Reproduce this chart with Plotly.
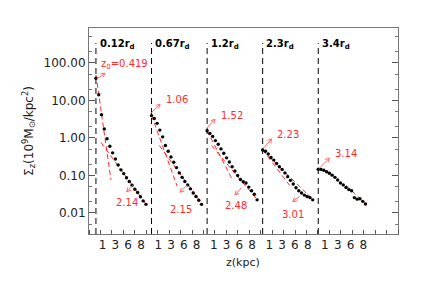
import numpy as np
import plotly.graph_objects as go

# ---------------- data ----------------
panel_titles = ["0.12r<sub>d</sub>", "0.67r<sub>d</sub>", "1.2r<sub>d</sub>", "2.3r<sub>d</sub>", "3.4r<sub>d</sub>"]
z_step = 0.5  # kpc sampling of the profiles

sigma_p1 = [38.9, 14.1, 4.17, 1.74, 0.95, 0.60, 0.40, 0.275, 0.19, 0.141, 0.112, 0.087, 0.069, 0.055, 0.043, 0.035, 0.027, 0.021, 0.017]
sigma_p2 = [3.94, 3.31, 2.45, 1.62, 1.07, 0.63, 0.44, 0.31, 0.224, 0.162, 0.117, 0.089, 0.069, 0.056, 0.044, 0.034, 0.0275, 0.0219, 0.017]
sigma_p3 = [1.55, 1.32, 1.10, 0.85, 0.68, 0.51, 0.39, 0.295, 0.229, 0.17, 0.132, 0.100, 0.078, 0.068, 0.063, 0.049, 0.039, 0.0316, 0.0224]
sigma_p4 = [0.479, 0.442, 0.372, 0.302, 0.257, 0.209, 0.170, 0.145, 0.117, 0.093, 0.074, 0.059, 0.047, 0.039, 0.034, 0.030, 0.0275, 0.0257, 0.0224]
sigma_p5 = [0.146, 0.145, 0.138, 0.126, 0.115, 0.102, 0.089, 0.076, 0.063, 0.056, 0.048, 0.042, 0.039, 0.0257, 0.0234, 0.024, 0.0204, 0.0174]
profiles = [sigma_p1, sigma_p2, sigma_p3, sigma_p4, sigma_p5]

# scale heights (kpc) of the fits
z0_inner = [0.419, 1.06, 1.52, 2.23, 3.14]
z0_outer = [2.14, 2.15, 2.48, 3.01, None]
inner_label = ["z<sub>0</sub>=0.419", "1.06", "1.52", "2.23", "3.14"]
outer_label = ["2.14", "2.15", "2.48", "3.01", None]
# fit extents (kpc) and normalisations (value at start of range)
inner_range = [(0.0, 2.7), (0.0, 4.6), (0.0, 4.5), (0.0, 5.0), (5.0, 8.6)]
inner_norm = [48.0, 4.0, 1.55, 0.48, 0.054]
outer_range = [(0.9, 9.1), (1.4, 9.1), (0.8, 9.1), (1.0, 9.1), None]
outer_end = [0.0165, 0.0175, 0.022, 0.0225, None]   # value at end of outer range

tick_pos = [1.2, 3.5, 5.8, 8.1]     # where the labels sit inside each panel
tick_text = ["1", "3", "6", "8"]

# ---------------- layout helpers ----------------
panel_w = 10.0
first_off = 1.25
offsets = [first_off + k * panel_w for k in range(5)]
XMAX = 55.6
RED = "#ff2a2a"
ARROW = "#ff6a6a"
FONT = "DejaVu Sans"

fig = go.Figure()

for k, prof in enumerate(profiles):
    off = offsets[k]
    z = np.arange(len(prof)) * z_step
    a, b = inner_range[k]
    zz = np.linspace(a, b, 30)
    fig.add_trace(go.Scatter(x=off + zz, y=inner_norm[k] * np.exp(-(zz - a) / z0_inner[k]),
                             mode="lines", line=dict(color=RED, width=1, dash="5px,3px"), hoverinfo="skip"))
    if z0_outer[k] is not None:
        a, b = outer_range[k]
        zz = np.linspace(a, b, 30)
        fig.add_trace(go.Scatter(x=off + zz, y=outer_end[k] * np.exp((b - zz) / z0_outer[k]),
                                 mode="lines", line=dict(color=RED, width=1, dash="5px,3px"), hoverinfo="skip"))
    fig.add_trace(go.Scatter(x=off + z, y=prof, mode="markers",
                             marker=dict(color="black", size=3.4), hoverinfo="skip"))

# convert reference pixel positions to axis coords (plot area 89..398 x 28..234)
def px2x(px):
    return (px - 89) / 309 * XMAX

def py2y(py):
    return 10 ** (2 - (py - 63) / 37.5)

ann = []
shapes = []
for k in range(5):
    off = offsets[k]
    shapes.append(dict(type="line", xref="x", yref="paper", x0=off, x1=off, y0=0, y1=0.927,
                       line=dict(color="black", width=1, dash="6px,4px")))
    ann.append(dict(xref="x", yref="paper", x=off + 0.3, y=0.922, xanchor="left", yanchor="middle",
                    text="<b>" + panel_titles[k] + "</b>", showarrow=False,
                    font=dict(family=FONT, size=10, color="black")))


def arrow(head_px, tail_off):
    """open arrow drawn as a pixel-sized path anchored at the head"""
    tx, ty = tail_off[0], -tail_off[1]
    L = np.hypot(tx, ty)
    ux, uy = tx / L, ty / L
    wings = []
    for ang in (0.5, -0.5):
        c, s = np.cos(ang), np.sin(ang)
        wings.append((4.5 * (ux * c - uy * s), 4.5 * (ux * s + uy * c)))
    path = (f"M{tx:.2f},{ty:.2f} L0,0 M{wings[0][0]:.2f},{wings[0][1]:.2f} L0,0 "
            f"L{wings[1][0]:.2f},{wings[1][1]:.2f}")
    return dict(type="path", xref="x", yref="y", xsizemode="pixel", ysizemode="pixel",
                xanchor=px2x(head_px[0]), yanchor=py2y(head_px[1]), path=path,
                line=dict(color=ARROW, width=1))


in_heads = [(105, 73.3), (160, 104.3), (215, 119.3), (271.7, 139), (329.3, 158.3)]
in_tail = [(-8.3, 6), (-9, 9), (-8.3, 9), (-8.4, 9.3), (-10, 10)]
in_text = [(124.8, 65), (177, 99.3), (232, 116), (287.5, 134.3), (346, 153.3)]
out_heads = [(126.7, 191.7), (180, 192.3), (235, 195), (292.7, 201.7)]
out_tail = [(6.6, -6.7), (7.3, -7.3), (6.7, -7.3), (7.3, -5.7)]
out_text = [(126.5, 203), (181, 210), (235.5, 206), (292.5, 214.3)]

for k in range(5):
    shapes.append(arrow(in_heads[k], in_tail[k]))
    tx, ty = in_text[k]
    ann.append(dict(x=px2x(tx), y=np.log10(py2y(ty)), xref="x", yref="y", text=inner_label[k], showarrow=False,
                    font=dict(family=FONT, size=10, color=RED)))
for k in range(4):
    shapes.append(arrow(out_heads[k], out_tail[k]))
    tx, ty = out_text[k]
    ann.append(dict(x=px2x(tx), y=np.log10(py2y(ty)), xref="x", yref="y", text=outer_label[k], showarrow=False,
                    font=dict(family=FONT, size=10, color=RED)))

# axis titles
ann.append(dict(xref="paper", yref="paper", x=-0.23, y=0.5, textangle=-90, showarrow=False,
                text="Σ<sub>z</sub>(10<sup>9</sup>M<sub>⊙</sub>/kpc<sup>2</sup>)",
                font=dict(family=FONT, size=12, color="#222")))
ann.append(dict(xref="paper", yref="paper", x=(243 - 89) / 309, y=-0.18, showarrow=False,
                text="z(kpc)", font=dict(family=FONT, size=11, color="#222")))

tickvals = [off + t for off in offsets for t in tick_pos]
ticktext = [t for _ in offsets for t in tick_text]
minor_dt = XMAX / 27

fig.update_layout(
    width=425, height=291, margin=dict(l=89, r=27, t=28, b=57),
    paper_bgcolor="white", plot_bgcolor="white", showlegend=False,
    annotations=ann, shapes=shapes,
    xaxis=dict(range=[0, XMAX], tickmode="array", tickvals=tickvals, ticktext=ticktext,
               ticks="", showgrid=False, zeroline=False, showline=True, linecolor="#777", mirror=True,
               tickfont=dict(family=FONT, size=12, color="#222"),
               minor=dict(tickmode="linear", tick0=0, dtick=minor_dt, ticks="inside", ticklen=4,
                          tickcolor="#555", showgrid=False)),
    xaxis2=dict(range=[0, XMAX], overlaying="x", side="top", anchor="y", tickmode="linear",
                tick0=0, dtick=minor_dt, ticks="inside", ticklen=4, tickcolor="#555",
                showticklabels=False, showgrid=False, zeroline=False, showline=False),
    yaxis=dict(type="log", range=[-2.56, 2.93], tickmode="array",
               tickvals=[0.01, 0.1, 1, 10, 100], ticktext=["0.01", "0.10", "1.00", "10.00", "100.00"],
               ticks="inside", ticklen=6, tickcolor="#555", showgrid=False, zeroline=False,
               showline=True, linecolor="#777", mirror="ticks",
               tickfont=dict(family=FONT, size=12, color="#222"),
               minor=dict(ticks="inside", ticklen=3, tickcolor="#777", showgrid=False)),
)

fig.write_html("out.html", config={"displayModeBar": False},
               post_script="document.body.style.margin='0px';")
